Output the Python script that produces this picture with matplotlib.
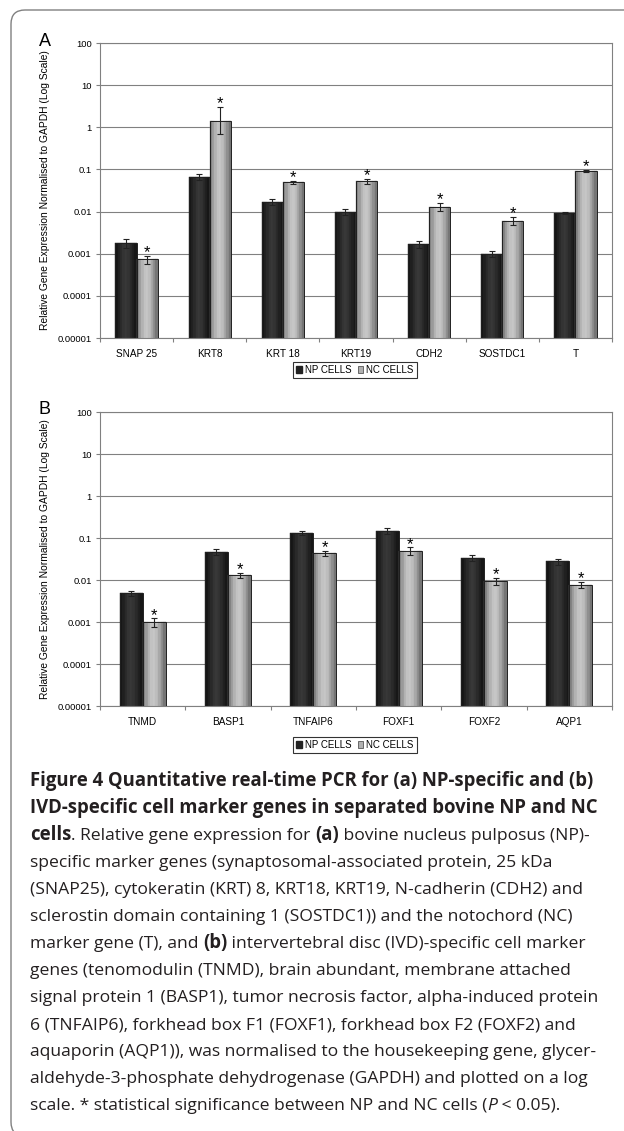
import numpy as np
import matplotlib.pyplot as plt
from matplotlib.patches import Patch, FancyBboxPatch

# ---- data ----
genes_a = ['SNAP 25', 'KRT8', 'KRT 18', 'KRT19', 'CDH2', 'SOSTDC1', 'T']
np_a = [0.0018, 0.067, 0.017, 0.010, 0.0017, 0.0010, 0.0091]
np_a_err = [0.0004, 0.010, 0.0025, 0.0018, 0.0003, 0.00018, 0.0005]
nc_a = [0.00073, 1.44, 0.050, 0.052, 0.0131, 0.0061, 0.093]
nc_a_err = [0.00015, 1.56, 0.004, 0.007, 0.0030, 0.0014, 0.006]
nc_a_err_lo = [0.00015, 0.75, 0.004, 0.007, 0.0030, 0.0014, 0.006]

genes_b = ['TNMD', 'BASP1', 'TNFAIP6', 'FOXF1', 'FOXF2', 'AQP1']
np_b = [0.0048, 0.047, 0.134, 0.147, 0.0334, 0.0278]
np_b_err = [0.0006, 0.007, 0.015, 0.022, 0.005, 0.0045]
nc_b = [0.0010, 0.0131, 0.043, 0.050, 0.0095, 0.0076]
nc_b_err = [0.00022, 0.0018, 0.006, 0.010, 0.0017, 0.0013]

y_ticks = [1e-5, 1e-4, 1e-3, 1e-2, 1e-1, 1, 10, 100]
y_labels = ['0.00001', '0.0001', '0.001', '0.01', '0.1', '1', '10', '100']
legend_labels = ['NP CELLS', 'NC CELLS']
ylab = 'Relative Gene Expression Normalised to GAPDH (Log Scale)'

caption = [
    [('Figure 4 Quantitative real-time PCR for (a) NP-specific and (b)', 'bold', 'normal')],
    [('IVD-specific cell marker genes in separated bovine NP and NC', 'bold', 'normal')],
    [('cells', 'bold', 'normal'), ('. Relative gene expression for ', 'normal', 'normal'),
     ('(a)', 'bold', 'normal'), (' bovine nucleus pulposus (NP)-', 'normal', 'normal')],
    [('specific marker genes (synaptosomal-associated protein, 25 kDa', 'normal', 'normal')],
    [('(SNAP25), cytokeratin (KRT) 8, KRT18, KRT19, N-cadherin (CDH2) and', 'normal', 'normal')],
    [('sclerostin domain containing 1 (SOSTDC1)) and the notochord (NC)', 'normal', 'normal')],
    [('marker gene (T), and ', 'normal', 'normal'), ('(b)', 'bold', 'normal'),
     (' intervertebral disc (IVD)-specific cell marker', 'normal', 'normal')],
    [('genes (tenomodulin (TNMD), brain abundant, membrane attached', 'normal', 'normal')],
    [('signal protein 1 (BASP1), tumor necrosis factor, alpha-induced protein', 'normal', 'normal')],
    [('6 (TNFAIP6), forkhead box F1 (FOXF1), forkhead box F2 (FOXF2) and', 'normal', 'normal')],
    [('aquaporin (AQP1)), was normalised to the housekeeping gene, glycer-', 'normal', 'normal')],
    [('aldehyde-3-phosphate dehydrogenase (GAPDH) and plotted on a log', 'normal', 'normal')],
    [('scale. * statistical significance between NP and NC cells (', 'normal', 'normal'),
     ('P', 'normal', 'italic'), (' < 0.05).', 'normal', 'normal')],
]

W, H = 624, 1131
plt.rcParams['font.family'] = ['Liberation Sans', 'DejaVu Sans']

fig = plt.figure(figsize=(W / 100, H / 100), dpi=100)


def fx(px):
    return px / W


def fy(py):
    return 1 - py / H


# 3D-ish shading like the original Excel bars
np_shade = ['#151515', '#1f1f1f', '#292929', '#333333', '#383838', '#333333', '#2a2a2a', '#202020', '#171717']
nc_shade = ['#7e7e7e', '#9a9a9a', '#b2b2b2', '#c2c2c2', '#c6c6c6', '#bdbdbd', '#a8a8a8', '#8f8f8f', '#757575']
base = 1e-5


def shaded_bars(ax, xs, vals, width, shade):
    vals = np.array(vals)
    n = len(shade)
    for i, c in enumerate(shade):
        off = -width / 2 + (i + 0.5) * width / n
        ax.bar(xs + off, vals - base, width=width / n, bottom=base, color=c,
               edgecolor=c, linewidth=0.3, zorder=2)
    ax.bar(xs, vals - base, width=width, bottom=base, fill=False,
           edgecolor='#202020', linewidth=0.7, zorder=3)


def panel(rect, genes, np_v, np_e, nc_v, nc_e_lo, nc_e_hi, width, letter, letter_y, leg_y):
    ax = fig.add_axes(rect)
    x = np.arange(len(genes))
    shaded_bars(ax, x - width / 2, np_v, width, np_shade)
    shaded_bars(ax, x + width / 2, nc_v, width, nc_shade)
    ax.errorbar(x - width / 2, np_v, yerr=np_e, fmt='none', ecolor='#222222',
                elinewidth=0.8, capsize=2, capthick=0.8, zorder=4)
    ax.errorbar(x + width / 2, nc_v, yerr=[nc_e_lo, nc_e_hi], fmt='none', ecolor='#222222',
                elinewidth=0.8, capsize=2, capthick=0.8, zorder=4)
    for xi, v, e in zip(x + width / 2, nc_v, nc_e_hi):
        ax.annotate('*', (xi, v + e), xytext=(0, -1), textcoords='offset points',
                    ha='center', va='baseline', fontsize=12)

    ax.set_yscale('log')
    ax.set_ylim(1e-5, 100)
    ax.set_xlim(-0.5, len(genes) - 0.5)
    ax.set_yticks(y_ticks)
    ax.set_yticklabels(y_labels)
    ax.minorticks_off()
    ax.set_xticks(x)
    ax.set_xticklabels(genes)
    ax.set_xticks(np.arange(-0.5, len(genes), 1), minor=True)
    ax.tick_params(axis='x', which='major', length=0, pad=8, labelsize=7.2)
    ax.tick_params(axis='x', which='minor', length=3, color='#808080', width=0.8)
    ax.tick_params(axis='y', which='major', length=3, color='#808080', width=0.8, pad=3, labelsize=6.8)
    ax.grid(axis='y', color='#808080', linewidth=0.8, zorder=0)
    ax.set_axisbelow(True)
    for s in ax.spines.values():
        s.set_color('#808080')
        s.set_linewidth(0.8)

    fig.text(fx(45), rect[1] + rect[3] / 2, ylab, rotation=90, ha='center', va='center', fontsize=7.4)
    fig.text(fx(45), fy(letter_y), letter, ha='center', va='center', fontsize=13)

    handles = [Patch(facecolor='#222222', edgecolor='#222222'),
               Patch(facecolor='#b0b0b0', edgecolor='#555555', linewidth=0.6)]
    leg = fig.legend(handles, legend_labels, loc='center', bbox_to_anchor=(fx(355), fy(leg_y)),
                     ncol=2, fontsize=7, handlelength=0.6, handleheight=0.6, handletextpad=0.3,
                     columnspacing=0.6, borderpad=0.3, fancybox=False, frameon=True)
    leg.get_frame().set_edgecolor('#000000')
    leg.get_frame().set_linewidth(0.8)
    return ax


panel([fx(100), fy(338), 512 / W, 295 / H], genes_a, np_a, np_a_err, nc_a, nc_a_err_lo, nc_a_err,
      0.29, 'A', 41, 370)
panel([fx(100), fy(706), 512 / W, 294 / H], genes_b, np_b, np_b_err, nc_b, nc_b_err, nc_b_err,
      0.27, 'B', 409, 745)

# frame round the figure (open to the right and bottom)
frame = FancyBboxPatch((0.11, -0.05), 7.0, 11.31 - 0.10 + 0.05,
                       boxstyle='round,pad=0,rounding_size=0.14', transform=fig.dpi_scale_trans,
                       fill=False, edgecolor='#808080', linewidth=1.0)
fig.patches.append(frame)

# caption with mixed bold / italic runs
renderer = fig.canvas.get_renderer()
cap_font = 'Open Sans'
cap_col = '#231f20'


def run_width(s, size, weight, style):
    t = fig.text(0, 0, s + '|', fontsize=size, fontweight=weight, fontstyle=style, family=cap_font)
    bar = fig.text(0, 0, '|', fontsize=size, fontweight=weight, fontstyle=style, family=cap_font)
    w = t.get_window_extent(renderer).width - bar.get_window_extent(renderer).width
    t.remove()
    bar.remove()
    return w


# fit sizes to the line widths of the printed caption
fs = 11 * 568 / run_width(caption[8][0][0], 11, 'normal', 'normal')
fs_bold = 11 * 563 / run_width(caption[0][0][0], 11, 'bold', 'normal')

y0, dy, x0 = 786, 27.0, 30
for i, line in enumerate(caption):
    xp = x0
    for s, weight, style in line:
        size = fs_bold if weight == 'bold' else fs
        fig.text(fx(xp), fy(y0 + i * dy), s, fontsize=size, fontweight=weight, fontstyle=style,
                 family=cap_font, color=cap_col, va='baseline', ha='left')
        xp += run_width(s, size, weight, style)

fig.savefig('out.png', dpi=100)
